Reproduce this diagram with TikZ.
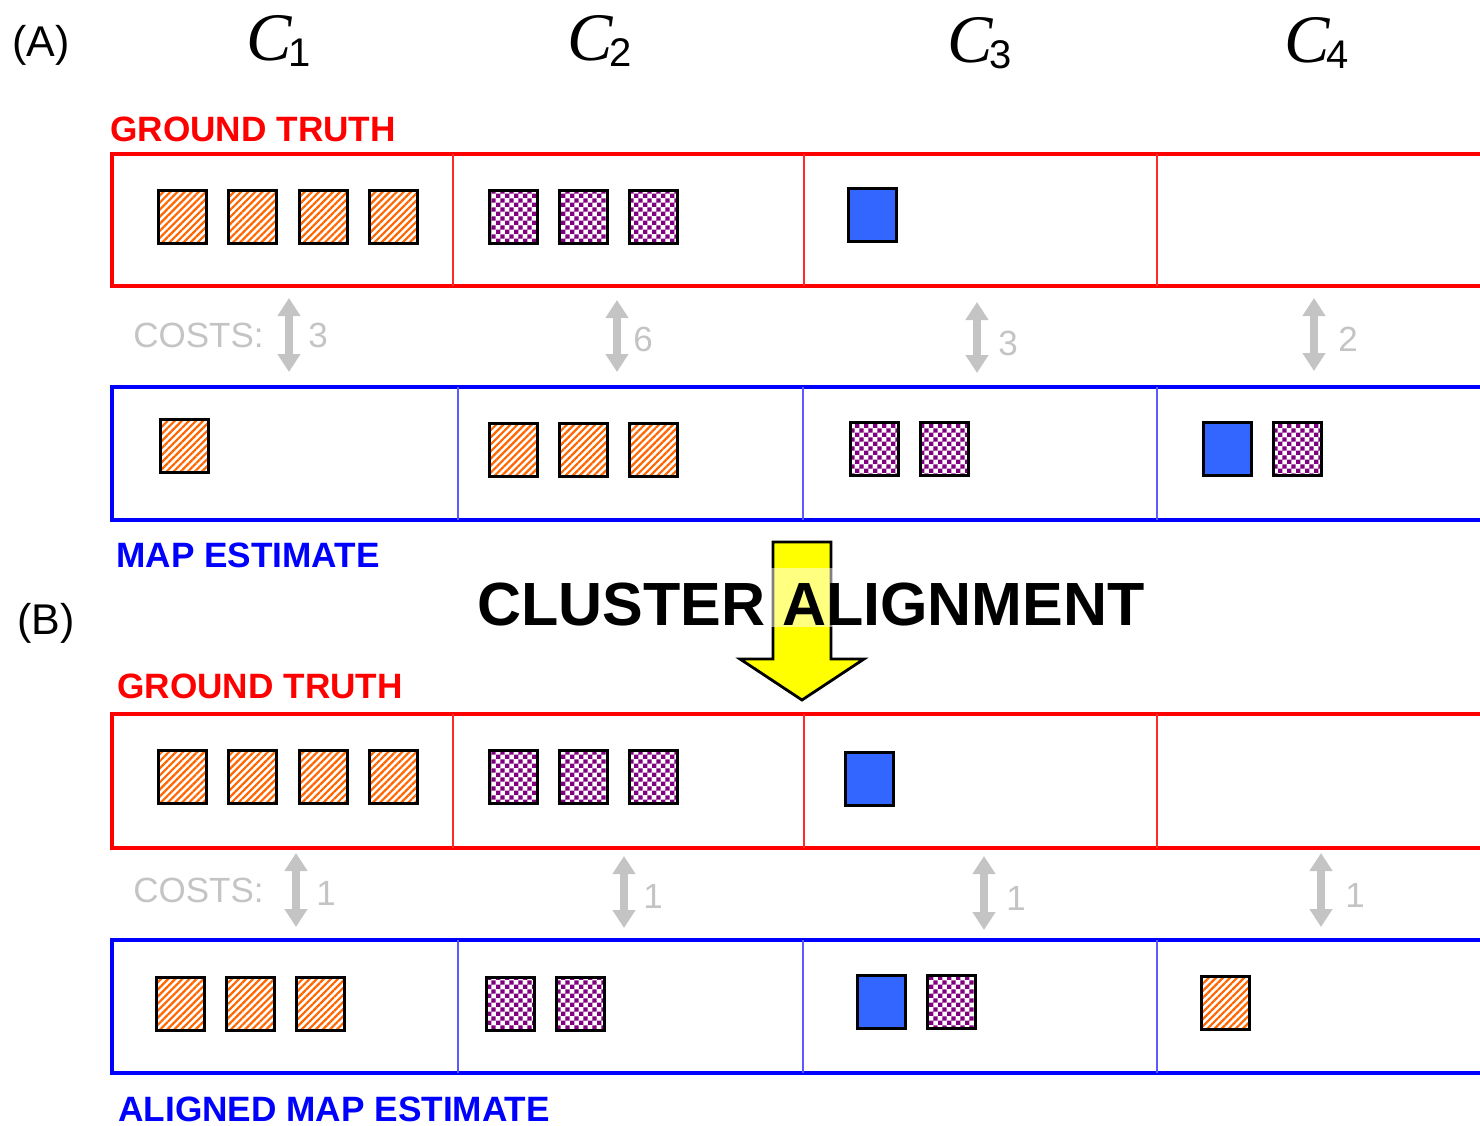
\documentclass[tikz,border=0pt]{standalone}
\usepackage{fontspec}
\setmainfont{Liberation Sans}
\newfontfamily\clusterfont{Liberation Serif}
\usetikzlibrary{patterns,patterns.meta,arrows.meta}

\definecolor{gtred}{HTML}{FF0000}
\definecolor{mapblue}{HTML}{0000FF}
\definecolor{divblue}{HTML}{5A5AFF}
\definecolor{divred}{HTML}{FF2A2A}
\definecolor{stripeorange}{HTML}{FF6600}
\definecolor{checkpurple}{HTML}{800080}
\definecolor{itemblue}{HTML}{3366FF}
\definecolor{costgray}{HTML}{C4C4C4}
\definecolor{arrowyellow}{HTML}{FFFF00}

% purple/white checkerboard fill
\pgfdeclarepatternformonly{checks}{\pgfpointorigin}{\pgfqpoint{4.6pt}{4.6pt}}{\pgfqpoint{4.6pt}{4.6pt}}{%
  \pgfpathrectangle{\pgfpointorigin}{\pgfqpoint{2.3pt}{2.3pt}}%
  \pgfpathrectangle{\pgfqpoint{2.3pt}{2.3pt}}{\pgfqpoint{2.3pt}{2.3pt}}%
  \pgfusepath{fill}}

\tikzset{
  item/.style={draw=black, line width=1.5pt, minimum width=24pt, minimum height=26.5pt, inner sep=0pt},
  oitem/.style={item, pattern={Lines[angle=45,distance=2.5pt,line width=1.1pt]}, pattern color=stripeorange},
  pitem/.style={item, pattern=checks, pattern color=checkpurple},
  bitem/.style={item, fill=itemblue},
  gtrow/.style={draw=gtred, line width=1.6pt},
  maprow/.style={draw=mapblue, line width=1.6pt},
  gtdiv/.style={draw=divred, line width=0.8pt},
  mapdiv/.style={draw=divblue, line width=0.8pt},
  rowlabel/.style={anchor=base west, inner sep=0pt, font=\fontsize{17.6}{18}\selectfont\bfseries},
  costlabel/.style={anchor=base west, inner sep=0pt, text=costgray, font=\fontsize{17.5}{18}\selectfont},
  costarrow/.style={draw=costgray, line width=4pt,
    {Triangle[width=11pt,length=9pt]}-{Triangle[width=11pt,length=9pt]}},
  panel/.style={inner sep=0pt, font=\fontsize{21.5}{22}\selectfont},
  clabel/.style={anchor=base west, inner sep=0pt},
}

\newcommand\clname[1]{{\clusterfont\itshape\fontsize{34}{34}\selectfont C}\kern-1.5pt\raisebox{-0.3em}{\fontsize{20}{20}\selectfont #1}}

\begin{document}
\begin{tikzpicture}[x=0.5pt, y=-0.5pt]
\useasboundingbox (0,0) rectangle (1480,1126);
\clip (0,0) rectangle (1480,1126);

% panel letters and cluster headings
\node[panel] (pA) at (41,45) {(A)};
\node[panel] (pB) at (46,623) {(B)};
\node[clabel] (c1) at (246,60) {\clname{1}};
\node[clabel] (c2) at (567,60) {\clname{2}};
\node[clabel] (c3) at (947,62) {\clname{3}};
\node[clabel] (c4) at (1284,62) {\clname{4}};

% ---------- (A) ground truth ----------
\node[rowlabel, text=gtred] (gtA) at (110,141) {GROUND TRUTH};
\draw[gtrow] (112,154) rectangle (1510,286);
\foreach \x in {453,804,1157} \draw[gtdiv] (\x,154) -- (\x,286);
\foreach \x/\n in {182/1,252/2,323/3,393/4} \node[oitem] (gA\n) at (\x,217) {};
\foreach \x/\n in {513/5,583/6,653/7} \node[pitem] (gA\n) at (\x,217) {};
\node[bitem] (gA8) at (872,215) {};

% ---------- (A) MAP estimate ----------
\draw[maprow] (112,387) rectangle (1510,520);
\foreach \x in {458,803,1157} \draw[mapdiv] (\x,387) -- (\x,520);
\node[oitem] (mA1) at (184,446) {};
\foreach \x/\n in {513/2,583/3,653/4} \node[oitem] (mA\n) at (\x,450) {};
\foreach \x/\n in {874/5,944/6} \node[pitem] (mA\n) at (\x,449) {};
\node[bitem] (mA7) at (1227,449) {};
\node[pitem] (mA8) at (1297,449) {};
\node[rowlabel, text=mapblue] (mapA) at (116,567) {MAP ESTIMATE};

% ---------- (A) costs ----------
\node[costlabel] (costA) at (133,347) {COSTS:};
\foreach \x/\t/\b/\n in {289/298/372/1,617/300/372/2,977/302/373/3,1314/298/371/4}{
  \coordinate (aT\n) at (\x,\t);
  \coordinate (aB\n) at (\x,\b);
  \draw[costarrow] (aT\n) -- (aB\n);
}
\node[costlabel] (kA1) at (308,347) {3};
\node[costlabel] (kA2) at (633,351) {6};
\node[costlabel] (kA3) at (998,355) {3};
\node[costlabel] (kA4) at (1338,351) {2};

% ---------- alignment arrow ----------
\draw[fill=arrowyellow, draw=black, line width=1.4pt, line join=miter]
  (773,542) -- (831,542) -- (831,659) -- (864,659) -- (802,700)
  -- (740,659) -- (773,659) -- cycle;
\node[anchor=base, inner xsep=0pt, inner ysep=0pt, text height=28.5pt, text depth=1pt,
  fill=white, fill opacity=0.5, text opacity=1,
  font=\fontsize{30.5}{30}\selectfont\bfseries] (align) at (811,625) {CLUSTER ALIGNMENT};

% ---------- (B) ground truth ----------
\node[rowlabel, text=gtred] (gtB) at (117,698) {GROUND TRUTH};
\draw[gtrow] (112,714) rectangle (1510,848);
\foreach \x in {453,804,1157} \draw[gtdiv] (\x,714) -- (\x,848);
\foreach \x/\n in {182/1,252/2,323/3,393/4} \node[oitem] (gB\n) at (\x,777) {};
\foreach \x/\n in {513/5,583/6,653/7} \node[pitem] (gB\n) at (\x,777) {};
\node[bitem] (gB8) at (869,779) {};

% ---------- (B) aligned MAP estimate ----------
\draw[maprow] (112,940) rectangle (1510,1073);
\foreach \x in {458,803,1157} \draw[mapdiv] (\x,940) -- (\x,1073);
\foreach \x/\n in {180/1,250/2,320/3} \node[oitem] (lB\n) at (\x,1004) {};
\foreach \x/\n in {510/4,580/5} \node[pitem] (lB\n) at (\x,1004) {};
\node[bitem] (lB6) at (881,1002) {};
\node[pitem] (lB7) at (951,1002) {};
\node[oitem] (lB8) at (1225,1003) {};
\node[rowlabel, text=mapblue] (mapB) at (118,1121) {ALIGNED MAP ESTIMATE};

% ---------- (B) costs ----------
\node[costlabel] (costB) at (133,902) {COSTS:};
\foreach \x/\t/\b/\n in {296/853/927/1,624/856/928/2,984/856/930/3,1321/853/927/4}{
  \coordinate (bT\n) at (\x,\t);
  \coordinate (bB\n) at (\x,\b);
  \draw[costarrow] (bT\n) -- (bB\n);
}
\node[costlabel] (kB1) at (316,905) {1};
\node[costlabel] (kB2) at (643,908) {1};
\node[costlabel] (kB3) at (1006,910) {1};
\node[costlabel] (kB4) at (1345,907) {1};
\end{tikzpicture}
\end{document}
